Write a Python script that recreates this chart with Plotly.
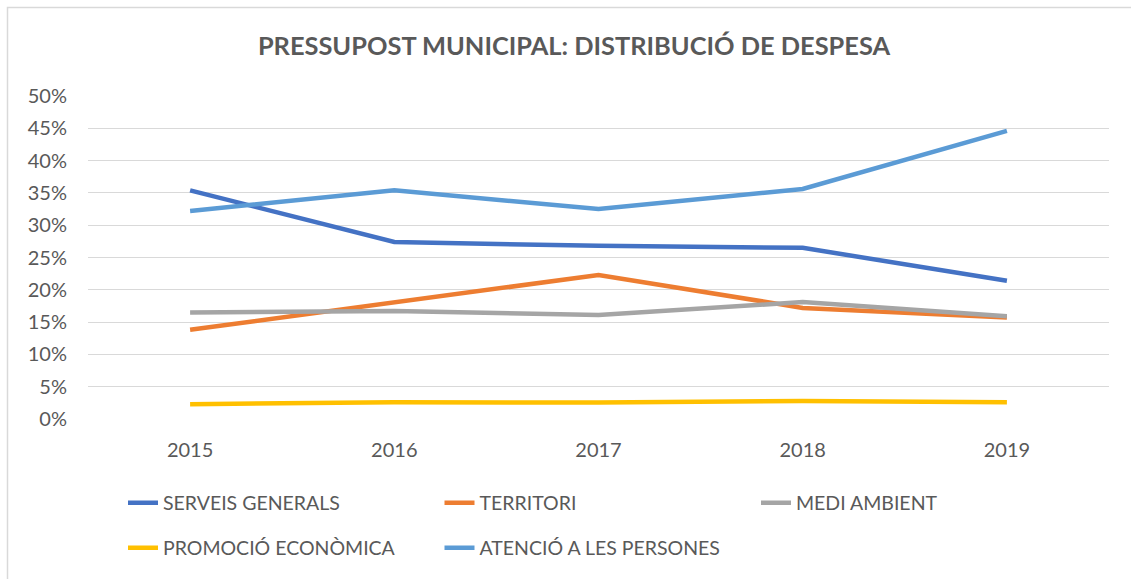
import plotly.graph_objects as go

years = ["2015", "2016", "2017", "2018", "2019"]
serveis_generals = [0.354, 0.274, 0.268, 0.265, 0.214]
territori = [0.138, 0.180, 0.223, 0.172, 0.157]
medi_ambient = [0.165, 0.167, 0.161, 0.181, 0.159]
promocio_economica = [0.023, 0.026, 0.0255, 0.028, 0.026]
atencio_persones = [0.322, 0.354, 0.325, 0.356, 0.446]

series_names = ["SERVEIS GENERALS", "TERRITORI", "MEDI AMBIENT",
                "PROMOCIÓ ECONÒMICA", "ATENCIÓ A LES PERSONES"]
series_values = [serveis_generals, territori, medi_ambient,
                 promocio_economica, atencio_persones]
colors = ["#4472C4", "#ED7D31", "#A5A5A5", "#FFC000", "#5B9BD5"]
legend_ids = ["legend", "legend", "legend", "legend2", "legend2"]
y_ticks = [i * 0.05 for i in range(11)]

W, H = 1131, 579
FONT = "Lato"
TXT = "#595959"

fig = go.Figure()
for name, vals, col, lg in zip(series_names, series_values, colors, legend_ids):
    fig.add_trace(go.Scatter(
        x=years, y=vals, name=name, mode="lines",
        line=dict(color=col, width=4.5),
        legend=lg,
    ))

leg_common = dict(
    orientation="h", xref="container", yref="container",
    xanchor="left", yanchor="middle",
    font=dict(family=FONT, size=19.5, color=TXT),
    entrywidth=271.5, entrywidthmode="pixels",
    bgcolor="rgba(0,0,0,0)", itemclick=False, traceorder="normal",
)

fig.update_layout(
    width=W, height=H,
    paper_bgcolor="white", plot_bgcolor="white",
    margin=dict(l=88, r=22, t=96, b=160),
    title=dict(
        text="<b>PRESSUPOST MUNICIPAL: DISTRIBUCIÓ DE DESPESA</b>",
        x=574 / W, xanchor="center", xref="container",
        y=1 - 46 / H, yanchor="middle", yref="container",
        font=dict(family=FONT, size=25.4, color=TXT),
    ),
    legend=dict(x=123 / W, y=1 - 503 / H, **leg_common),
    legend2=dict(x=123 / W, y=1 - 548 / H, **leg_common),
    xaxis=dict(
        type="category", range=[-0.5, 4.5],
        showgrid=False, showline=False, zeroline=False,
        ticks="", ticklabelstandoff=17,
        tickfont=dict(family=FONT, size=20, color=TXT),
    ),
    yaxis=dict(
        range=[0, 0.5], tickvals=y_ticks, tickformat=".0%",
        showgrid=True, gridcolor="#D9D9D9", gridwidth=1.3,
        zeroline=False, showline=False, ticks="",
        ticklabelstandoff=20,
        tickfont=dict(family=FONT, size=20, color=TXT),
    ),
    shapes=[dict(
        type="rect", xref="paper", yref="paper",
        x0=(7.5 - 88) / 1021, x1=(1140 - 88) / 1021,
        y0=(419 - 590) / 323, y1=(419 - 7.5) / 323,
        line=dict(color="#D9D9D9", width=1.5), fillcolor="rgba(0,0,0,0)",
        layer="below",
    )],
)

fig.write_html(
    "out.html",
    config={"displayModeBar": False},
    post_script="document.body.style.margin='0';document.body.style.overflow='hidden';",
)
